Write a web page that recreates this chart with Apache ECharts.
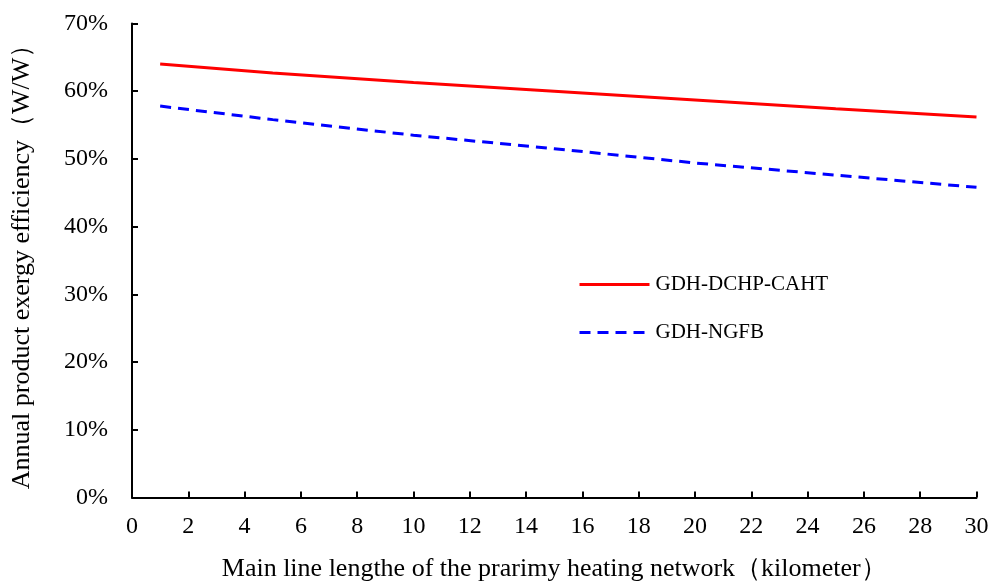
<!DOCTYPE html>
<html>
<head>
<meta charset="utf-8">
<script src="https://cdn.jsdelivr.net/npm/echarts@6/dist/echarts.min.js"></script>
<style>html,body{margin:0;padding:0;background:#fff;}#c{width:993px;height:581px;}</style>
</head>
<body>
<div id="c"></div>
<script>
var lengthsKm = [1, 5, 10, 15, 20, 25, 30];
var dchpCaht = [64.0, 62.7, 61.3, 60.0, 58.7, 57.4, 56.2];
var ngfb = [57.8, 55.8, 53.5, 51.5, 49.4, 47.6, 45.8];
var seriesNames = ['GDH-DCHP-CAHT', 'GDH-NGFB'];
var xTitle = 'Main line lengthe of the prarimy heating network（kilometer）';
var yTitle = 'Annual product exergy efficiency（W/W）';

function pairs(xs, ys) { return xs.map(function (x, i) { return [x, ys[i]]; }); }

var font = '"Liberation Serif", "Times New Roman", serif';
var chart = echarts.init(document.getElementById('c'));
chart.setOption({
  animation: false,
  backgroundColor: '#fff',
  grid: { left: 132, right: 16.5, top: 23.5, bottom: 83.6, containLabel: false, outerBoundsMode: 'none' },
  legend: {
    left: 573, top: 269, orient: 'vertical', itemGap: 27,
    itemWidth: 70, itemHeight: 20,
    itemStyle: { opacity: 0 },
    lineStyle: { width: 3 },
    textStyle: { fontFamily: font, fontSize: 21, color: '#000', padding: [0, 0, 0, 1] },
    data: seriesNames
  },
  xAxis: {
    type: 'value', min: 0, max: 30, interval: 2,
    name: xTitle, nameLocation: 'middle', nameGap: 59,
    nameTextStyle: { fontFamily: font, fontSize: 26, color: '#000' },
    axisLine: { show: true, lineStyle: { color: '#000', width: 2 } },
    axisTick: { show: true, inside: true, length: 6, lineStyle: { color: '#000', width: 2 } },
    axisLabel: { fontFamily: font, fontSize: 24, color: '#000', margin: 17 },
    splitLine: { show: false }
  },
  yAxis: {
    type: 'value', min: 0, max: 70, interval: 10,
    name: yTitle, nameLocation: 'middle', nameGap: 97,
    nameTextStyle: { fontFamily: font, fontSize: 26, color: '#000' },
    axisLine: { show: true, lineStyle: { color: '#000', width: 2 } },
    axisTick: { show: true, inside: true, length: 6, lineStyle: { color: '#000', width: 2 } },
    axisLabel: { fontFamily: font, fontSize: 24, color: '#000', margin: 24, formatter: '{value}%' },
    splitLine: { show: false }
  },
  series: [
    {
      name: seriesNames[0], type: 'line', data: pairs(lengthsKm, dchpCaht),
      symbol: 'none', smooth: false, color: '#ff0000',
      lineStyle: { color: '#ff0000', width: 3, type: 'solid' }
    },
    {
      name: seriesNames[1], type: 'line', data: pairs(lengthsKm, ngfb),
      symbol: 'none', smooth: false, color: '#0000ff',
      lineStyle: { color: '#0000ff', width: 3, type: [11, 7] }
    }
  ]
});
</script>
</body>
</html>
